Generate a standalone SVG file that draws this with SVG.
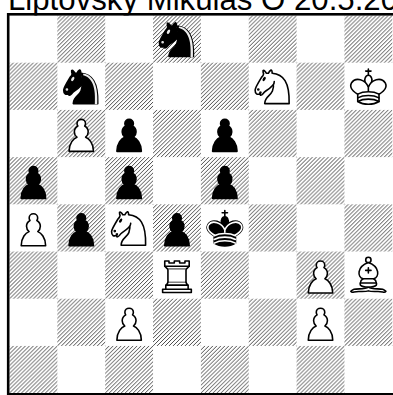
<svg xmlns="http://www.w3.org/2000/svg" xmlns:xlink="http://www.w3.org/1999/xlink" width="393" height="395" viewBox="0 0 393 395">
<style>
.title{font-family:"Liberation Sans",Arial,sans-serif;font-size:31.2px;fill:#000}
.pc{stroke:#000;stroke-width:1.5;stroke-linecap:round;stroke-linejoin:round}
.w{fill:#fff}
.b{fill:#000}
</style>
<defs>
<pattern id="h" patternUnits="userSpaceOnUse" width="3.75" height="3.75">
<path d="M0,3.75 L3.75,0 M-1,1 L1,-1 M2.75,4.75 L4.75,2.75" stroke="#2a2a2a" stroke-width="0.8"/>
</pattern>
<rect id="d" width="45" height="45" fill="url(#h)"/>
<path id="pawn" d="m22.5,9c-2.21,0-4,1.790-4,4 0,0.89 0.29,1.71 0.78,2.38C17.33,16.5 16,18.59 16,21c0,2.03 0.94,3.84 2.41,5.03C15.41,27.09 11,31.58 11,39.5H34C34,31.58 29.59,27.09 26.59,26.03 28.06,24.84 29,23.03 29,21 29,18.59 27.67,16.5 25.72,15.38 26.21,14.71 26.5,13.89 26.5,13c0-2.21-1.79-4-4-4z"/>
<g id="wp" class="pc"><use xlink:href="#pawn" class="w"/></g>
<g id="bp" class="pc"><use xlink:href="#pawn" class="b"/></g>
<g id="wn" class="pc">
<path class="w" d="M22,10C32.5,11 38.5,18 38,39L15,39C15,30 25,32.5 23,18"/>
<path class="w" d="M24,18C24.38,20.91 18.45,25.37 16,27C13,29 13.18,31.34 11,31C9.958,30.06 12.41,27.96 11,28C10,28 11.19,29.23 10,30C9,30 5.997,31 6,26C6,24 12,14 12,14C12,14 13.89,12.1 14,10.5C13.27,9.506 13.5,8.5 13.5,7.5C14.5,6.5 16.5,10 16.5,10L18.5,10C18.5,10 19.28,8.008 21,7C22,7 22,10 22,10"/>
<path class="b" d="M9.5,25.5A0.5,0.5 0 1 1 8.5,25.5A0.5,0.5 0 1 1 9.5,25.5z"/>
<path class="b" d="M15,15.5A0.5,1.5 0 1 1 14,15.5A0.5,1.5 0 1 1 15,15.5z" transform="matrix(0.866,0.5,-0.5,0.866,9.693,-5.173)"/>
</g>
<g id="bn" class="pc">
<path class="b" d="M22,10C32.5,11 38.5,18 38,39L15,39C15,30 25,32.5 23,18"/>
<path class="b" d="M24,18C24.38,20.91 18.45,25.37 16,27C13,29 13.18,31.34 11,31C9.958,30.06 12.41,27.96 11,28C10,28 11.19,29.23 10,30C9,30 5.997,31 6,26C6,24 12,14 12,14C12,14 13.89,12.1 14,10.5C13.27,9.506 13.5,8.5 13.5,7.5C14.5,6.5 16.5,10 16.5,10L18.5,10C18.5,10 19.28,8.008 21,7C22,7 22,10 22,10"/>
<path d="M9.5,25.5A0.5,0.5 0 1 1 8.5,25.5A0.5,0.5 0 1 1 9.5,25.5z" fill="#ececec" stroke="#ececec"/>
<path d="M15,15.5A0.5,1.5 0 1 1 14,15.5A0.5,1.5 0 1 1 15,15.5z" transform="matrix(0.866,0.5,-0.5,0.866,9.693,-5.173)" fill="#ececec" stroke="#ececec"/>
<path d="M24.55,10.4L24.1,11.85L24.6,12C27.75,13 30.25,14.49 32.5,18.75C34.75,23.01 35.75,29.06 35.25,39L35.2,39.5L37.45,39.5L37.5,39C38,28.94 36.62,22.15 34.25,17.66C31.88,13.17 28.46,11.02 25.06,10.5L24.55,10.4z" fill="#ececec" stroke="none"/>
</g>
<g id="wk" class="pc" fill="none">
<path d="M22.5,11.63L22.5,6M20,8L25,8" stroke-linejoin="miter"/>
<path class="w" d="M22.5,25C22.5,25 27,17.5 25.5,14.5C25.5,14.5 24.5,12 22.5,12C20.5,12 19.5,14.5 19.5,14.5C18,17.5 22.5,25 22.5,25" stroke-linecap="butt" stroke-linejoin="miter"/>
<path class="w" d="M12.5,37C18,40.5 27,40.5 32.5,37L32.5,30C32.5,30 41.5,25.5 38.5,19.5C34.5,13 25,16 22.5,23.5L22.5,27L22.5,23.5C20,16 10.5,13 6.5,19.5C3.5,25.5 12.5,30 12.5,30L12.5,37"/>
<path d="M12.5,30C18,27 27,27 32.5,30M12.5,33.5C18,30.5 27,30.5 32.5,33.5M12.5,37C18,34 27,34 32.5,37"/>
</g>
<g id="bk" class="pc" fill="none">
<path d="M22.5,11.63L22.5,6M20,8L25,8" stroke-linejoin="miter"/>
<path class="b" d="M22.5,25C22.5,25 27,17.5 25.5,14.5C25.5,14.5 24.5,12 22.5,12C20.5,12 19.5,14.5 19.5,14.5C18,17.5 22.5,25 22.5,25" stroke-linecap="butt" stroke-linejoin="miter"/>
<path class="b" d="M12.5,37C18,40.5 27,40.5 32.5,37L32.5,30C32.5,30 41.5,25.5 38.5,19.5C34.5,13 25,16 22.5,23.5L22.5,27L22.5,23.5C20,16 10.5,13 6.5,19.5C3.5,25.5 12.5,30 12.5,30L12.5,37"/>
<path d="M32,29.5C32,29.5 40.5,25.5 38.03,19.85C34.15,14 25,18 22.5,24.5L22.5,26.6L22.5,24.5C20,18 10.850,14 6.97,19.85C4.5,25.5 13,29.5 13,29.5" stroke="#fff"/>
<path d="M12.5,30C18,27 27,27 32.5,30M12.5,33.5C18,30.5 27,30.5 32.5,33.5M12.5,37C18,34 27,34 32.5,37" stroke="#fff"/>
</g>
<g id="wr" class="pc">
<path class="w" d="M9,39L36,39L36,36L9,36L9,39z" stroke-linecap="butt"/>
<path class="w" d="M12,36L12,32L33,32L33,36L12,36z" stroke-linecap="butt"/>
<path class="w" d="M11,14L11,9L15,9L15,11L20,11L20,9L25,9L25,11L30,11L30,9L34,9L34,14" stroke-linecap="butt"/>
<path class="w" d="M34,14L31,17L14,17L11,14"/>
<path class="w" d="M31,17L31,29.5L14,29.5L14,17" stroke-linecap="butt" stroke-linejoin="miter"/>
<path class="w" d="M31,29.5L32.5,32L12.5,32L14,29.5"/>
<path d="M11,14L34,14" fill="none" stroke-linejoin="miter"/>
</g>
<g id="wb" class="pc" fill="none">
<g class="w" stroke-linecap="butt">
<path d="M9,36C12.39,35.03 19.11,36.43 22.5,34C25.89,36.43 32.61,35.03 36,36C36,36 37.65,36.54 39,38C38.32,38.97 37.35,38.99 36,38.5C32.61,37.53 25.89,38.96 22.5,37.5C19.11,38.96 12.39,37.53 9,38.5C7.65,38.99 6.68,38.97 6,38C7.35,36.54 9,36 9,36z"/>
<path d="M15,32C17.5,34.5 27.5,34.5 30,32C30.5,30.5 30,30 30,30C30,27.5 27.5,26 27.5,26C33,24.5 33.5,14.5 22.5,10.5C11.5,14.5 12,24.5 17.5,26C17.5,26 15,27.5 15,30C15,30 14.5,30.5 15,32z"/>
<path d="M25,8A2.5,2.5 0 1 1 20,8A2.5,2.5 0 1 1 25,8z"/>
</g>
<path d="M17.5,26L27.5,26M15,30L30,30M22.5,15.5L22.5,20.5M20,18L25,18" stroke-linejoin="miter"/>
</g>
</defs>
<rect width="393" height="395" fill="#fff"/>
<text class="title" x="8" y="9.5">Liptovský Mikuláš O 20.5.2012</text>
<g id="board" transform="translate(9.5,15.5) scale(1.0633,1.049)">
<rect width="360" height="360" fill="#fff"/>
<g id="dark-squares">
<use xlink:href="#d" x="45" y="0"/><use xlink:href="#d" x="135" y="0"/><use xlink:href="#d" x="225" y="0"/><use xlink:href="#d" x="315" y="0"/>
<use xlink:href="#d" x="0" y="45"/><use xlink:href="#d" x="90" y="45"/><use xlink:href="#d" x="180" y="45"/><use xlink:href="#d" x="270" y="45"/>
<use xlink:href="#d" x="45" y="90"/><use xlink:href="#d" x="135" y="90"/><use xlink:href="#d" x="225" y="90"/><use xlink:href="#d" x="315" y="90"/>
<use xlink:href="#d" x="0" y="135"/><use xlink:href="#d" x="90" y="135"/><use xlink:href="#d" x="180" y="135"/><use xlink:href="#d" x="270" y="135"/>
<use xlink:href="#d" x="45" y="180"/><use xlink:href="#d" x="135" y="180"/><use xlink:href="#d" x="225" y="180"/><use xlink:href="#d" x="315" y="180"/>
<use xlink:href="#d" x="0" y="225"/><use xlink:href="#d" x="90" y="225"/><use xlink:href="#d" x="180" y="225"/><use xlink:href="#d" x="270" y="225"/>
<use xlink:href="#d" x="45" y="270"/><use xlink:href="#d" x="135" y="270"/><use xlink:href="#d" x="225" y="270"/><use xlink:href="#d" x="315" y="270"/>
<use xlink:href="#d" x="0" y="315"/><use xlink:href="#d" x="90" y="315"/><use xlink:href="#d" x="180" y="315"/><use xlink:href="#d" x="270" y="315"/>
</g>
<g id="d8-bn"><use xlink:href="#bn" x="135" y="0"/></g>
<g id="b7-bn"><use xlink:href="#bn" x="45" y="45"/></g>
<g id="f7-wn"><use xlink:href="#wn" x="225" y="45"/></g>
<g id="h7-wk"><use xlink:href="#wk" x="315" y="45"/></g>
<g id="b6-wp"><use xlink:href="#wp" x="45" y="90"/></g>
<g id="c6-bp"><use xlink:href="#bp" x="90" y="90"/></g>
<g id="e6-bp"><use xlink:href="#bp" x="180" y="90"/></g>
<g id="a5-bp"><use xlink:href="#bp" x="0" y="135"/></g>
<g id="c5-bp"><use xlink:href="#bp" x="90" y="135"/></g>
<g id="e5-bp"><use xlink:href="#bp" x="180" y="135"/></g>
<g id="a4-wp"><use xlink:href="#wp" x="0" y="180"/></g>
<g id="b4-bp"><use xlink:href="#bp" x="45" y="180"/></g>
<g id="c4-wn"><use xlink:href="#wn" x="90" y="180"/></g>
<g id="d4-bp"><use xlink:href="#bp" x="135" y="180"/></g>
<g id="e4-bk"><use xlink:href="#bk" x="180" y="180"/></g>
<g id="d3-wr"><use xlink:href="#wr" x="135" y="225"/></g>
<g id="g3-wp"><use xlink:href="#wp" x="270" y="225"/></g>
<g id="h3-wb"><use xlink:href="#wb" x="315" y="225"/></g>
<g id="c2-wp"><use xlink:href="#wp" x="90" y="270"/></g>
<g id="g2-wp"><use xlink:href="#wp" x="270" y="270"/></g>
</g>
<rect id="frame" x="8.2" y="14.3" width="388" height="380" fill="none" stroke="#000" stroke-width="2.6"/>
</svg>
